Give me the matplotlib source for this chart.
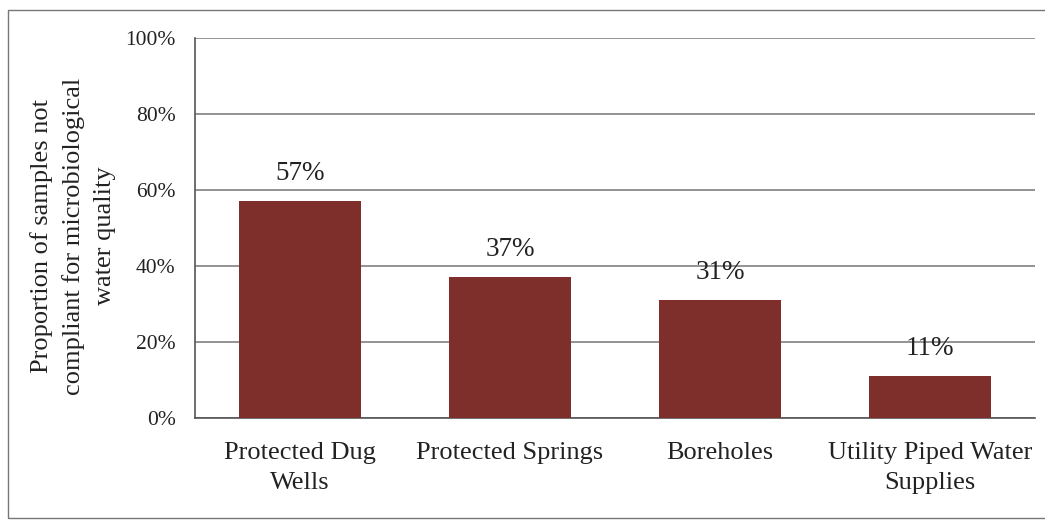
import matplotlib
matplotlib.use("Agg")
import matplotlib.pyplot as plt
from matplotlib.patches import Rectangle

categories = ["Protected Dug\nWells", "Protected Springs", "Boreholes", "Utility Piped Water\nSupplies"]
values = [57, 37, 31, 11]
labels = ["57%", "37%", "31%", "11%"]
yticks = [0, 20, 40, 60, 80, 100]
ytick_labels = ["0%", "20%", "40%", "60%", "80%", "100%"]

plt.rcParams['font.family'] = ['Liberation Serif', 'DejaVu Serif']

fig = plt.figure(figsize=(10.45, 5.21), dpi=100)
ax = fig.add_axes([195/1045, 1-418/521, (1035-195)/1045, (418-38)/521])

x = range(len(categories))
bars = ax.bar(x, values, width=0.58, color="#7e2f2b", zorder=3)
for xi, v, lab in zip(x, values, labels):
    ax.annotate(lab, (xi, v), xytext=(0, 20), textcoords="offset points",
                ha="center", va="center", fontsize=19.5, color="#222222")

ax.set_xlim(-0.5, 3.5)
ax.set_ylim(0, 100)
ax.set_yticks(yticks)
ax.set_yticklabels(ytick_labels, fontsize=15.5, color="#222222")
ax.set_xticks(list(x))
ax.set_xticklabels(categories, fontsize=19, color="#222222", linespacing=1.5)
ax.tick_params(axis='both', length=0)
ax.tick_params(axis='y', pad=14)
ax.tick_params(axis='x', pad=17)
ax.yaxis.grid(True, color="#808080", linewidth=1.2, zorder=0)
ax.set_axisbelow(True)
for s in ["top", "right"]:
    ax.spines[s].set_visible(False)
ax.spines["left"].set_color("#555555")
ax.spines["bottom"].set_color("#555555")
ax.spines["left"].set_linewidth(1.2)
ax.spines["bottom"].set_linewidth(1.2)

fig.text(73/1045, 1-236/521,
         "Proportion of samples not\ncompliant for microbiological\nwater quality",
         rotation=90, ha="center", va="center", fontsize=19, color="#222222",
         linespacing=1.5, multialignment="center")

fig.patches.append(Rectangle((8/1045, 3/521), 1.1, 1-13/521, transform=fig.transFigure,
                             fill=False, edgecolor="#777777", linewidth=1.0))

fig.savefig("out.png", dpi=100)
